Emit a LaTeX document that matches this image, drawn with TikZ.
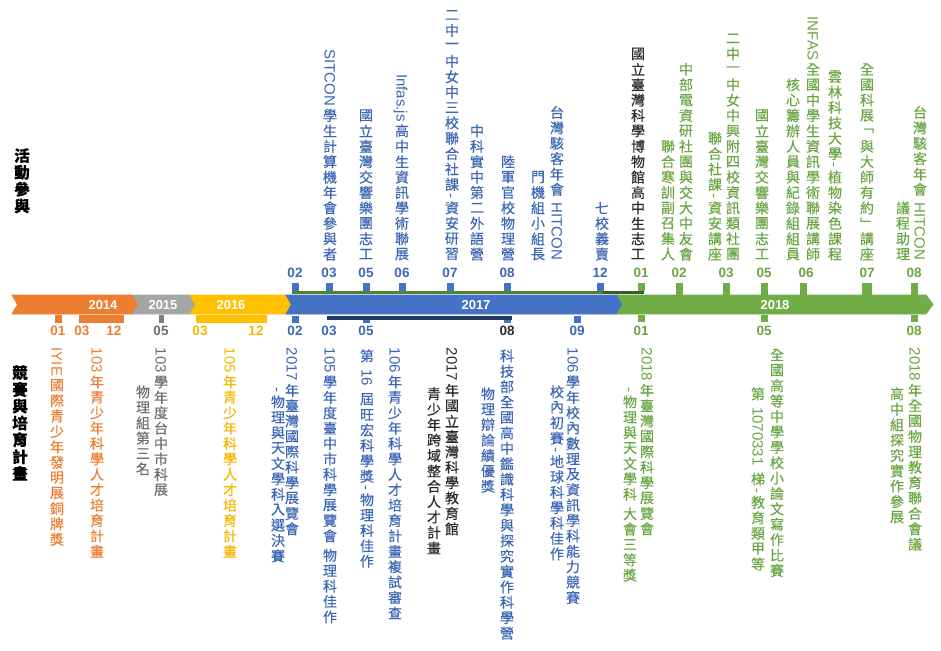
\documentclass[tikz,border=0pt]{standalone}
\usepackage{fontspec}
\setmainfont{Noto Sans CJK TC}[FakeBold=0.3]
\newfontfamily\latf{Liberation Sans}
\usepackage{graphicx}

\definecolor{cOr}{HTML}{ED7D31}
\definecolor{cGy}{HTML}{A5A5A5}
\definecolor{cGyT}{HTML}{6E6E6E}
\definecolor{cGyM}{HTML}{7F7F7F}
\definecolor{cYe}{HTML}{FFC000}
\definecolor{cYeT}{HTML}{F5B700}
\definecolor{cBl}{HTML}{4472C4}
\definecolor{cBlT}{HTML}{3C67B5}
\definecolor{cGr}{HTML}{70AD47}
\definecolor{cGrT}{HTML}{6AA744}
\definecolor{cLn}{HTML}{548235}
\definecolor{cLnD}{HTML}{3A5A2A}
\definecolor{cNv}{HTML}{1F3864}
\definecolor{cDk}{HTML}{2B2B2B}

\ExplSyntaxOn
\dim_new:N \l_vt_pitch_dim
\dim_new:N \l_vt_w_dim
\dim_set:Nn \l_vt_w_dim {15pt}
\cs_new_protected:Npn \vt_cjk:n #1
  { \vbox_to_ht:nn { \l_vt_pitch_dim } { \vss \hbox_to_wd:nn { \l_vt_w_dim } { \hss #1 \hss } \vss } }
\cs_new_protected:Npn \vt_lat:n #1
  {
    \vbox:n
      {
        \kern 1.5pt
        \hbox_to_wd:nn { \l_vt_w_dim }
          { \hss \rotatebox{-90}{ \latf \fontsize{15}{15}\selectfont \raisebox{0pt}[0.72em][0pt]{#1} } \hss }
        \kern 1.5pt
      }
  }
\cs_new_protected:Npn \vt_item:n #1
  {
    \tl_if_blank:nTF {#1}
      { \kern 4pt }
      {
        \tl_if_single_token:nTF {#1}
          {
            \int_compare:nNnTF { `#1 } > { "2E7F }
              { \vt_cjk:n {#1} }
              { \vt_lat:n {#1} }
          }
          { \vt_lat:n {#1} }
      }
  }
\NewDocumentCommand \vt { O{15.4pt} m }
  {
    \vbox:n
      {
        \dim_set:Nn \l_vt_pitch_dim {#1}
        \offinterlineskip
        \tl_map_inline:nn {#2} { \vt_item:n {##1} }
      }
  }
\ExplSyntaxOff

\newcommand\tickmk[4]{\fill[#4] ({#1-3.5},#2) rectangle ({#1+3.5},#3);}

\tikzset{
  vtop/.style={anchor=south, inner sep=0pt, font=\fontsize{14}{15}\selectfont},
  vbot/.style={anchor=north, inner sep=0pt, font=\fontsize{14}{15}\selectfont},
  tlab/.style={inner sep=0pt, font=\latf\bfseries\fontsize{13.5}{14}\selectfont},
  yr/.style={text=white, inner sep=0pt, font=\latf\bfseries\fontsize{13}{14}\selectfont},
  side/.style={anchor=north, inner sep=0pt, text=black, font=\bfseries\fontsize{15.5}{17}\selectfont},
  chev/.style={draw=white, line width=0.8pt}
}

\begin{document}
\begin{tikzpicture}[x=1pt,y=-1pt]
\useasboundingbox (0,0) rectangle (941,650);
\fill[white] (0,0) rectangle (941,650);

% ---- timeline bar
\fill[chev,cOr] (12,295) -- (133,295) -- (138.5,304.5) -- (133,314) -- (12,314) -- (17.5,304.5) -- cycle;
\fill[chev,cGy] (133,295) -- (190,295) -- (195.5,304.5) -- (190,314) -- (133,314) -- (138.5,304.5) -- cycle;
\fill[chev,cYe] (190,295) -- (286,295) -- (291.5,304.5) -- (286,314) -- (190,314) -- (195.5,304.5) -- cycle;
\fill[chev,cBl] (286,295) -- (617,295) -- (623,304.5) -- (617,314) -- (286,314) -- (291.5,304.5) -- cycle;
\fill[chev,cGr] (617,295) -- (926,295) -- (933,304.5) -- (926,314) -- (617,314) -- (623,304.5) -- cycle;

\node[yr] (y14) at (103,305) {2014};
\node[yr] (y15) at (163,305) {2015};
\node[yr] (y16) at (231,305) {2016};
\node[yr] (y17) at (476,305) {2017};
\node[yr] (y18) at (775,305) {2018};

% ---- top lines and marks
\fill[cLn] (292,290.5) rectangle (603,294);
\fill[cLnD] (603,290.5) rectangle (644,294);
\foreach \x in {295,329,366,402,450,507,600} {\tickmk{\x}{283}{290.5}{cBl}}
\tickmk{641}{283}{290.5}{cGr}
\foreach \x in {679,726,764,803,914} {\tickmk{\x}{283}{295}{cGr}}
\fill[cGr] (862,283) rectangle (872,295);

% ---- bottom lines and marks
\tickmk{58}{315}{323}{cOr}
\fill[cOr] (79,315) rectangle (124,323);
\fill[cGyM] (158.5,315) rectangle (163.5,323);
\fill[cYe] (196,315) rectangle (267,323);
\tickmk{295}{316}{323}{cBl}
\tickmk{366}{317}{323}{cBl}
\tickmk{507}{316}{323}{cBl}
\fill[cNv] (327,316) rectangle (512,320);
\tickmk{577}{316}{323}{cBl}
\foreach \x in {641,764,914} {\tickmk{\x}{315}{322}{cGr}}

% ---- tick labels
\foreach \x/\lb [count=\i] in {295/02,329/03,366/05,402/06,450/07,507/08,600/12}
  \node[tlab,text=cBlT] (ta\i) at (\x,273) {\lb};
\foreach \x/\lb [count=\i] in {641/01,679/02,726/03,764/05,806/06,867/07,914/08}
  \node[tlab,text=cGrT] (tb\i) at (\x,273) {\lb};
\foreach \x/\lb [count=\i] in {58/01,82/03,114/12}
  \node[tlab,text=cOr] (bc\i) at (\x,331) {\lb};
\node[tlab,text=cGyT] (bd1) at (161,331) {05};
\foreach \x/\lb [count=\i] in {200/03,256/12}
  \node[tlab,text=cYeT] (be\i) at (\x,331) {\lb};
\foreach \x/\lb [count=\i] in {295/02,329/03,366/05,577/09}
  \node[tlab,text=cBlT] (bf\i) at (\x,331) {\lb};
\node[tlab,text=cDk] (bf5) at (507,331) {08};
\foreach \x/\lb [count=\i] in {641/01,764/05,914/08}
  \node[tlab,text=cGrT] (bg\i) at (\x,331) {\lb};

% ---- side labels
\node[side] (sideA) at (22,147) {\vt[16.8pt]{活動參與}};
\node[side] (sideB) at (20,364) {\vt[16.8pt]{競賽與培育計畫}};

% ---- top texts
\node[vtop,text=cBlT] (t1) at (330,262) {\vt{{SITCON}學生計算機年會參與者}};
\node[vtop,text=cBlT] (t2) at (366,262) {\vt{國立臺灣交響樂團志工}};
\node[vtop,text=cBlT] (t3) at (402,262) {\vt{{Infas.js}高中生資訊學術聯展}};
\node[vtop,text=cBlT] (t4) at (452,262) {\vt{二中一中女中三校聯合社課-資安研習}};
\node[vtop,text=cBlT] (t5) at (477,262) {\vt{中科實中第二外語營}};
\node[vtop,text=cBlT] (t6) at (508,262) {\vt{陸軍官校物理營}};
\node[vtop,text=cBlT] (t7) at (557,262) {\vt{台灣駭客年會{ HITCON}}};
\node[vtop,text=cBlT] (t8) at (538,262) {\vt{門機組小組長}};
\node[vtop,text=cBlT] (t9) at (602,262) {\vt{七校義賣}};
\node[vtop,text=cDk] (t10) at (638,262) {\vt{國立臺灣科學博物館高中生志工}};
\node[vtop,text=cGrT] (t11) at (686,262) {\vt{中部電資研社團與交大中友會}};
\node[vtop,text=cGrT] (t12) at (668,262) {\vt{聯合寒訓副召集人}};
\node[vtop,text=cGrT] (t13) at (733,262) {\vt{二中一中女中興附四校資訊類社團}};
\node[vtop,text=cGrT] (t14) at (715,262) {\vt{聯合社課-資安講座}};
\node[vtop,text=cGrT] (t15) at (762,262) {\vt{國立臺灣交響樂團志工}};
\node[vtop,text=cGrT] (t16) at (813,262) {\vt{{INFAS}全國中學生資訊學術聯展講師}};
\node[vtop,text=cGrT] (t17) at (793,262) {\vt{核心籌辦人員與紀錄組組員}};
\node[vtop,text=cGrT] (t18) at (835,262) {\vt{雲林科技大學-植物染色課程}};
\node[vtop,text=cGrT] (t19) at (867,262) {\vt{全國科展﹁與大師有約﹂講座}};
\node[vtop,text=cGrT] (t20) at (920,262) {\vt{台灣駭客年會{ HITCON}}};
\node[vtop,text=cGrT] (t21) at (903,262) {\vt{議程助理}};

% ---- bottom texts
\node[vbot,text=cOr] (b1) at (57,346) {\vt{{IYIE}國際青少年發明展銅牌獎}};
\node[vbot,text=cOr] (b2) at (97,346) {\vt{{103}年青少年科學人才培育計畫}};
\node[vbot,text=cGyT] (b3) at (161,346) {\vt{{103}學年度台中市科展}};
\node[vbot,text=cGyT] (b4) at (143,384) {\vt{物理組第三名}};
\node[vbot,text=cYeT] (b5) at (230,346) {\vt{{105}年青少年科學人才培育計畫}};
\node[vbot,text=cBlT] (b6) at (292,346) {\vt{{2017}年臺灣國際科學展覽會}};
\node[vbot,text=cBlT] (b7) at (278,386) {\vt{-物理與天文學科入選決賽}};
\node[vbot,text=cBlT] (b8) at (330,346) {\vt{{105}學年度臺中市科學展覽會{ }物理科佳作}};
\node[vbot,text=cBlT] (b9) at (367,348) {\vt{第{ 16 }屆旺宏科學獎-物理科佳作}};
\node[vbot,text=cBlT] (b10) at (395,346) {\vt{{106}年青少年科學人才培育計畫複試審查}};
\node[vbot,text=cDk] (b11) at (452,346) {\vt{{2017}年國立臺灣科學教育館}};
\node[vbot,text=cDk] (b12) at (434,386) {\vt{青少年跨域整合人才計畫}};
\node[vbot,text=cBlT] (b13) at (507,348) {\vt{科技部全國高中鑑識科學與探究實作科學營}};
\node[vbot,text=cBlT] (b14) at (488,386) {\vt{物理辯論績優獎}};
\node[vbot,text=cBlT] (b15) at (573,346) {\vt{{106}學年校內數理及資訊學科能力競賽}};
\node[vbot,text=cBlT] (b16) at (557,384) {\vt{校內初賽-地球科學科佳作}};
\node[vbot,text=cGrT] (b17) at (647,346) {\vt{{2018}年臺灣國際科學展覽會}};
\node[vbot,text=cGrT] (b18) at (630,386) {\vt{-物理與天文學科{ }大會三等獎}};
\node[vbot,text=cGrT] (b19) at (777,347) {\vt{全國高等中學學校小論文寫作比賽}};
\node[vbot,text=cGrT] (b20) at (758,386) {\vt{第{ 1070331 }梯-教育類甲等}};
\node[vbot,text=cGrT] (b21) at (915,346) {\vt{{2018}年全國物理教育聯合會議}};
\node[vbot,text=cGrT] (b22) at (897,386) {\vt{高中組探究實作參展}};
\end{tikzpicture}
\end{document}
